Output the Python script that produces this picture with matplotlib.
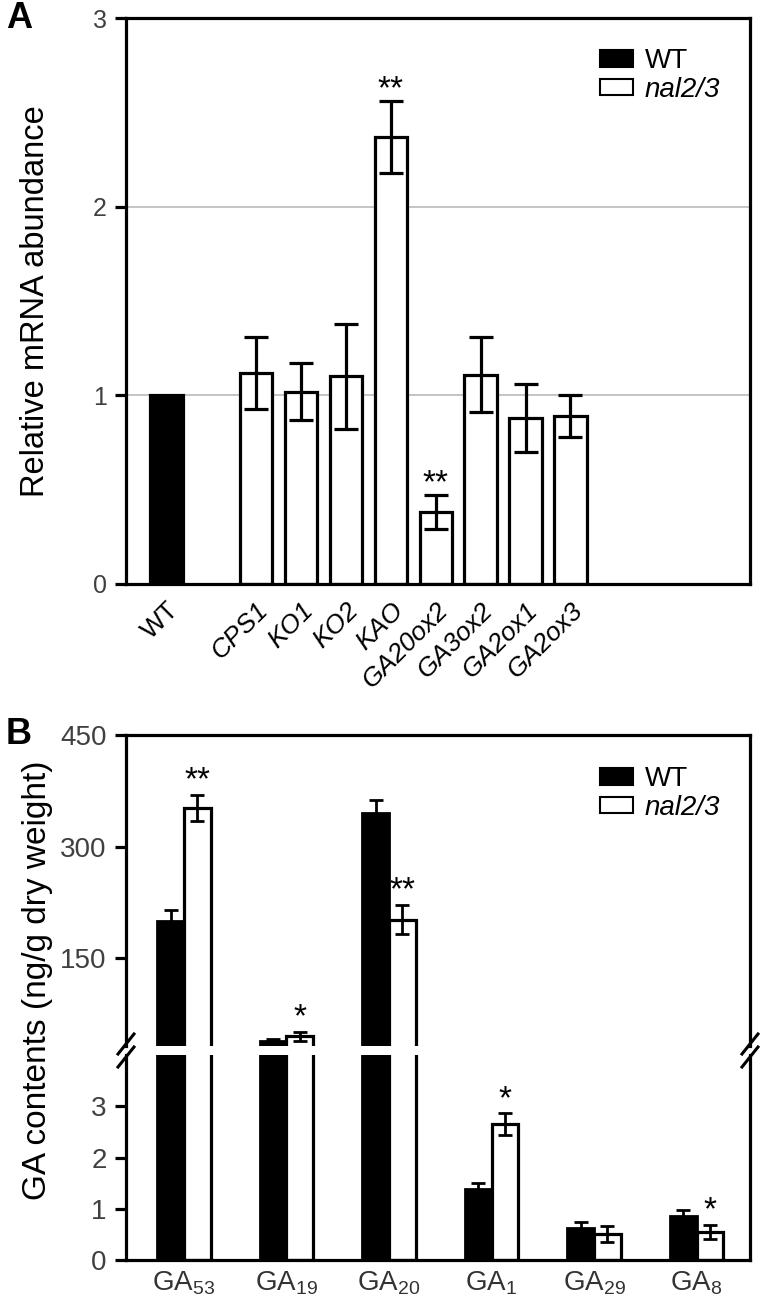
import matplotlib
matplotlib.use("Agg")
import matplotlib.pyplot as plt
from matplotlib.lines import Line2D
from matplotlib.patches import Patch

plt.rcParams['font.family'] = ['Liberation Sans', 'DejaVu Sans']
plt.rcParams['mathtext.default'] = 'regular'

# Panel A: relative mRNA abundance
genes = ['WT', 'CPS1', 'KO1', 'KO2', 'KAO', 'GA20ox2', 'GA3ox2', 'GA2ox1', 'GA2ox3']
gene_pos = [0, 2, 3, 4, 5, 6, 7, 8, 9]
mrna = [1.0, 1.12, 1.02, 1.10, 2.37, 0.38, 1.11, 0.88, 0.89]
mrna_err = [0, 0.19, 0.15, 0.28, 0.19, 0.09, 0.20, 0.18, 0.11]
mrna_sig = ['', '', '', '', '**', '**', '', '', '']

# Panel B: GA contents
ga_names = ['GA$_{53}$', 'GA$_{19}$', 'GA$_{20}$', 'GA$_{1}$', 'GA$_{29}$', 'GA$_{8}$']
ga_wt = [200, 39, 345, 1.39, 0.63, 0.85]
ga_wt_err = [15, 2, 17, 0.12, 0.12, 0.13]
ga_mut = [352, 45, 202, 2.65, 0.51, 0.55]
ga_mut_err = [18, 6, 20, 0.21, 0.15, 0.14]
ga_sig = ['**', '*', '**', '*', '', '*']

W, H = 760, 1298
fig = plt.figure(figsize=(W / 100, H / 100), dpi=100)


def box(x0, y0, x1, y1):
    """pixel box (top-left origin) -> figure rect"""
    return [x0 / W, 1 - y1 / H, (x1 - x0) / W, (y1 - y0) / H]


def style_axis(ax, fs):
    for sp in ax.spines.values():
        sp.set_linewidth(2.3)
    ax.tick_params(axis='y', direction='out', length=8, width=2.3,
                   labelsize=fs, labelcolor='#404040', pad=6)
    ax.tick_params(axis='x', length=0)


# ---------------- panel A ----------------
axA = fig.add_axes(box(126, 18, 750, 584))
style_axis(axA, 18)
axA.set_ylim(0, 3)
axA.set_xlim(-0.9, 13)
axA.set_yticks([0, 1, 2, 3])
for g in [1, 2]:
    axA.axhline(g, color='#bfbfbf', lw=1.3, zorder=0)

colors = ['black'] + ['white'] * (len(genes) - 1)
axA.bar(gene_pos, mrna, width=0.72, color=colors, edgecolor='black',
        linewidth=2.3, zorder=2)
for x, v, e, s in zip(gene_pos, mrna, mrna_err, mrna_sig):
    if e > 0:
        axA.errorbar(x, v, yerr=e, fmt='none', ecolor='black', elinewidth=2.3,
                     capsize=8.5, capthick=2.3, zorder=3)
    if s:
        axA.text(x, v + e - 0.02, s, ha='center', va='bottom', fontsize=24)

axA.set_xticks(gene_pos)
lbls = axA.set_xticklabels(genes, rotation=45, ha='right', rotation_mode='anchor',
                           fontsize=19)
for t in lbls[1:]:
    t.set_style('italic')
axA.tick_params(axis='x', pad=10)
axA.set_ylabel('Relative mRNA abundance', fontsize=23.5)
axA.yaxis.set_label_coords(-0.12, 0.5)

handles = [Patch(facecolor='black', edgecolor='black', lw=1.5),
           Patch(facecolor='white', edgecolor='black', lw=1.5)]
legA = axA.legend(handles, ['WT', 'nal2/3'], loc='upper left',
                  bbox_to_anchor=(600 / W, 1 - 48 / H),
                  bbox_transform=fig.transFigure, frameon=False, fontsize=20,
                  handlelength=1.2, handleheight=0.55, handletextpad=0.4,
                  labelspacing=0.1, borderpad=0, borderaxespad=0)
legA.get_texts()[1].set_style('italic')

fig.text(6 / W, 1 - 18 / H, 'A', fontsize=26, fontweight='bold', va='center')

# ---------------- panel B ----------------
axU = fig.add_axes(box(126, 735, 750, 1046))
axL = fig.add_axes(box(126, 1055, 750, 1260))
bw = 0.26
xs = list(range(len(ga_names)))
for ax in (axU, axL):
    style_axis(ax, 20)
    ax.set_xlim(-0.565, 5.52)
    ax.bar([x - bw / 2 for x in xs], ga_wt, width=bw, color='black',
           edgecolor='black', linewidth=2, zorder=2)
    ax.bar([x + bw / 2 for x in xs], ga_mut, width=bw, color='white',
           edgecolor='black', linewidth=2.3, zorder=2)
    ax.errorbar([x - bw / 2 for x in xs], ga_wt, yerr=ga_wt_err, fmt='none',
                ecolor='black', elinewidth=2, capsize=5, capthick=2, zorder=3)
    ax.errorbar([x + bw / 2 for x in xs], ga_mut, yerr=ga_mut_err, fmt='none',
                ecolor='black', elinewidth=2, capsize=5, capthick=2, zorder=3)

axU.set_ylim(32, 450)
axU.set_yticks([150, 300, 450])
axU.spines['bottom'].set_visible(False)
axU.set_xticks([])
axL.set_ylim(0, 4)
axL.set_yticks([0, 1, 2, 3])
axL.spines['top'].set_visible(False)
axL.set_xticks(xs)
axL.set_xticklabels(ga_names, fontsize=20, color='#333333')
axL.tick_params(axis='x', pad=7)

for x, m, me, s in zip(xs, ga_mut, ga_mut_err, ga_sig):
    if not s:
        continue
    if m > 32:
        axU.text(x + bw / 2, m + me - 2, s, ha='center', va='bottom', fontsize=24)
    else:
        axL.text(x + bw / 2, m + me - 0.03, s, ha='center', va='bottom', fontsize=24)

# break marks
for px in (126, 750):
    for py in (1044, 1057):
        fig.add_artist(Line2D([(px - 8) / W, (px + 8) / W],
                              [1 - (py + 10) / H, 1 - (py - 10) / H],
                              color='black', lw=2.2))

legB = axU.legend(handles, ['WT', 'nal2/3'], loc='upper left',
                  bbox_to_anchor=(600 / W, 1 - 766 / H),
                  bbox_transform=fig.transFigure, frameon=False, fontsize=20,
                  handlelength=1.2, handleheight=0.55, handletextpad=0.4,
                  labelspacing=0.1, borderpad=0, borderaxespad=0)
legB.get_texts()[1].set_style('italic')

fig.text(38 / W, 1 - 980 / H, 'GA contents (ng/g dry weight)', fontsize=24,
         rotation=90, ha='center', va='center')
fig.text(6 / W, 1 - 735 / H, 'B', fontsize=26, fontweight='bold', va='center')

fig.savefig('out.png', dpi=100)
